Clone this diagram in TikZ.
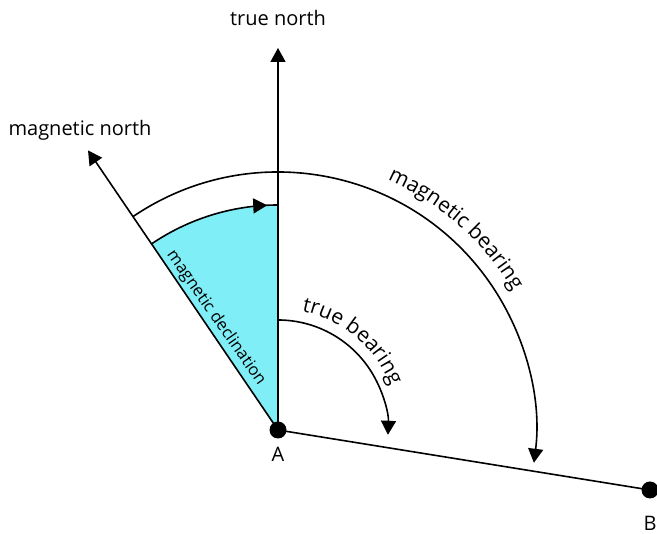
\documentclass[tikz,border=0pt]{standalone}
\usepackage{fontspec}
\setsansfont{Open Sans}
\usetikzlibrary{arrows.meta,calc,decorations.text,decorations.markings}
\definecolor{declcyan}{RGB}{128,238,246}

\begin{document}
\begin{tikzpicture}[x=1pt,y=1pt,line width=1.6pt,
    arr/.style={-{Triangle[length=14pt,width=15pt]}},
    lbl/.style={font=\sffamily\fontsize{20}{24}\selectfont},
    dot/.style={circle,fill=black,inner sep=0pt,minimum size=17pt}]
    \useasboundingbox (0,0) rectangle (657,534);
    \coordinate (A) at (278,104);
    \coordinate (TN) at (278,486);
    \coordinate (MN) at ($(A)+(124.2:338)$);
    \coordinate (B) at (650,44);
    \fill[declcyan] (A) -- ($(A)+(124.2:225)$) arc[start angle=124.2,end angle=90,radius=225] -- cycle;
    \draw[arr] (A) -- (TN);
    \draw[arr] (A) -- (MN);
    \draw (A) -- (B);
    \draw[decoration={markings,mark=at position 0.92 with {\arrow{Triangle[length=14pt,width=15pt]}}},postaction=decorate]
      ($(A)+(124.2:225)$) arc[start angle=124.2,end angle=90,radius=225];
    \draw[arr] ($(A)+(124.2:258)$) arc[start angle=124.2,end angle=-7.3,radius=258];
    \draw[arr] ($(A)+(90:110)$) arc[start angle=90,end angle=-2.5,radius=110];
    \node[dot] (a) at (A) {};
    \node[dot] (b) at (B) {};
    \node[lbl] (tnl) at (278,516) {true north};
    \node[lbl] (mnl) at (80,404) {magnetic north};
    \node[lbl] (al) at (278,80) {A};
    \node[lbl] (bl) at (650,11) {B};
    \node[font=\sffamily\fontsize{16.5}{18}\selectfont,rotate=-55] (decl) at (216,216) {magnetic declination};
    \path[decorate,decoration={text along path,text align=center,
      text={|\sffamily\fontsize{21}{24}\selectfont|magnetic bearing}}]
      ($(A)+(72:273)$) arc[start angle=72,end angle=25,radius=273];
    \path[decorate,decoration={text along path,text align=center,
      text={|\sffamily\fontsize{21}{24}\selectfont|true bearing}}]
      ($(A)+(90:121)$) arc[start angle=90,end angle=10,radius=121];
\end{tikzpicture}
\end{document}
